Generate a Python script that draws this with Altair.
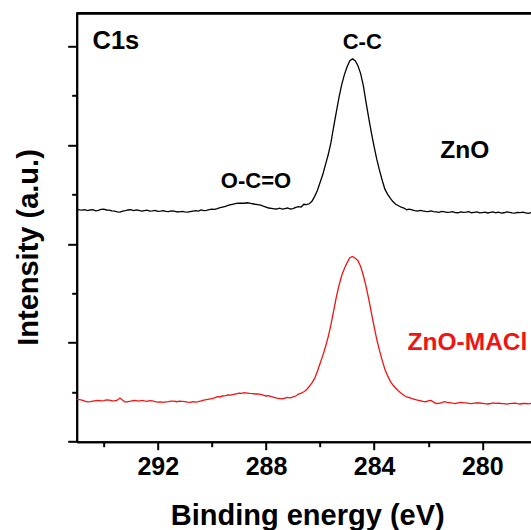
import altair as alt
import pandas as pd

# Binding energy (eV), shared by both spectra
energy = [295.0,
          294.9, 294.8, 294.7, 294.6, 294.5, 294.4, 294.3, 294.2, 294.1, 294.0,
          293.9, 293.8, 293.7, 293.6, 293.5, 293.4, 293.3, 293.2, 293.1, 293.0,
          292.9, 292.8, 292.7, 292.6, 292.5, 292.4, 292.3, 292.2, 292.1, 292.0,
          291.9, 291.8, 291.7, 291.6, 291.5, 291.4, 291.3, 291.2, 291.1, 291.0,
          290.9, 290.8, 290.7, 290.6, 290.5, 290.4, 290.3, 290.2, 290.1, 290.0,
          289.9, 289.8, 289.7, 289.6, 289.5, 289.4, 289.3, 289.2, 289.1, 289.0,
          288.9, 288.8, 288.7, 288.6, 288.5, 288.4, 288.3, 288.2, 288.1, 288.0,
          287.9, 287.8, 287.7, 287.6, 287.5, 287.4, 287.3, 287.2, 287.1, 287.0,
          286.9, 286.8, 286.7, 286.6, 286.5, 286.4, 286.3, 286.2, 286.1, 286.0,
          285.9, 285.8, 285.7, 285.6, 285.5, 285.4, 285.3, 285.2, 285.1, 285.0,
          284.9, 284.8, 284.7, 284.6, 284.5, 284.4, 284.3, 284.2, 284.1, 284.0,
          283.9, 283.8, 283.7, 283.6, 283.5, 283.4, 283.3, 283.2, 283.1, 283.0,
          282.9, 282.8, 282.7, 282.6, 282.5, 282.4, 282.3, 282.2, 282.1, 282.0,
          281.9, 281.8, 281.7, 281.6, 281.5, 281.4, 281.3, 281.2, 281.1, 281.0,
          280.9, 280.8, 280.7, 280.6, 280.5, 280.4, 280.3, 280.2, 280.1, 280.0,
          279.9, 279.8, 279.7, 279.6, 279.5, 279.4, 279.3, 279.2, 279.1, 279.0,
          278.9, 278.8, 278.7, 278.6, 278.5, 278.4, 278.3, 278.2]

# ZnO spectrum (black)
zno = [2.350,
       2.344, 2.340, 2.346, 2.336, 2.342, 2.345, 2.334, 2.338, 2.348, 2.350,
       2.342, 2.340, 2.332, 2.330, 2.324, 2.320, 2.330, 2.335, 2.342, 2.345,
       2.336, 2.343, 2.338, 2.330, 2.336, 2.340, 2.331, 2.333, 2.338, 2.328,
       2.330, 2.336, 2.329, 2.326, 2.333, 2.330, 2.324, 2.322, 2.327, 2.323,
       2.320, 2.325, 2.330, 2.335, 2.331, 2.343, 2.336, 2.338, 2.346, 2.350,
       2.348, 2.356, 2.366, 2.372, 2.378, 2.388, 2.396, 2.402, 2.408, 2.412,
       2.410, 2.410, 2.415, 2.412, 2.405, 2.400, 2.396, 2.390, 2.380, 2.372,
       2.362, 2.358, 2.354, 2.352, 2.360, 2.350, 2.356, 2.362, 2.352, 2.355,
       2.368, 2.376, 2.372, 2.400, 2.396, 2.405, 2.430, 2.480, 2.540, 2.620,
       2.700, 2.800, 2.900, 3.020, 3.180, 3.330, 3.480, 3.610, 3.710, 3.790,
       3.850, 3.869, 3.850, 3.800, 3.720, 3.600, 3.430, 3.270, 3.120, 2.980,
       2.850, 2.740, 2.640, 2.550, 2.500, 2.460, 2.425, 2.400, 2.385, 2.370,
       2.362, 2.345, 2.350, 2.343, 2.336, 2.330, 2.338, 2.332, 2.328, 2.325,
       2.333, 2.326, 2.322, 2.318, 2.327, 2.324, 2.318, 2.320, 2.326, 2.316,
       2.314, 2.322, 2.318, 2.320, 2.326, 2.314, 2.318, 2.322, 2.312, 2.316,
       2.320, 2.312, 2.318, 2.322, 2.314, 2.320, 2.310, 2.314, 2.322, 2.318,
       2.312, 2.310, 2.318, 2.316, 2.320, 2.312, 2.308, 2.316]

# ZnO-MACl spectrum (red)
zno_macl = [0.431,
            0.426, 0.420, 0.410, 0.402, 0.405, 0.410, 0.415, 0.418, 0.412, 0.415,
            0.422, 0.420, 0.414, 0.412, 0.420, 0.441, 0.418, 0.401, 0.406, 0.410,
            0.418, 0.415, 0.410, 0.417, 0.412, 0.408, 0.414, 0.412, 0.405, 0.400,
            0.403, 0.397, 0.402, 0.405, 0.410, 0.410, 0.404, 0.411, 0.408, 0.404,
            0.400, 0.398, 0.404, 0.401, 0.406, 0.412, 0.420, 0.425, 0.430, 0.435,
            0.444, 0.455, 0.452, 0.462, 0.466, 0.472, 0.470, 0.478, 0.484, 0.490,
            0.488, 0.496, 0.492, 0.488, 0.486, 0.482, 0.484, 0.478, 0.470, 0.462,
            0.466, 0.455, 0.448, 0.440, 0.436, 0.432, 0.440, 0.448, 0.444, 0.452,
            0.462, 0.482, 0.490, 0.505, 0.525, 0.560, 0.595, 0.640, 0.710, 0.790,
            0.870, 0.960, 1.060, 1.180, 1.320, 1.460, 1.580, 1.680, 1.750, 1.810,
            1.860, 1.872, 1.855, 1.830, 1.770, 1.680, 1.570, 1.440, 1.300, 1.160,
            1.030, 0.920, 0.820, 0.730, 0.665, 0.610, 0.570, 0.540, 0.512, 0.490,
            0.470, 0.452, 0.446, 0.436, 0.428, 0.420, 0.414, 0.407, 0.404, 0.412,
            0.418, 0.400, 0.386, 0.388, 0.396, 0.405, 0.398, 0.395, 0.390, 0.386,
            0.392, 0.398, 0.394, 0.392, 0.388, 0.384, 0.390, 0.393, 0.391, 0.388,
            0.384, 0.381, 0.386, 0.392, 0.388, 0.390, 0.386, 0.385, 0.380, 0.384,
            0.388, 0.390, 0.384, 0.381, 0.386, 0.386, 0.382, 0.387]

# Annotations (text, energy, intensity)
ann_text = ["C1s", "C-C", "O-C=O", "ZnO", "ZnO-MACl"]
ann_e = [293.55, 284.44, 288.37, 280.65, 280.55]
ann_i = [3.969, 3.974, 2.564, 2.864, 0.927]

x_major = [292, 288, 284, 280]
x_minor = [294, 290, 286, 282]
y_major = [0, 1, 2, 3, 4]
y_minor = [0.5, 1.5, 2.5, 3.5]

RED = "#f01414"
FONT = "Liberation Sans"

df_zno = pd.DataFrame({"E": energy, "I": zno})
df_macl = pd.DataFrame({"E": energy, "I": zno_macl})
df_ann = pd.DataFrame({"text": ann_text, "E": ann_e, "I": ann_i})

xs = alt.Scale(domain=[278.2, 295], reverse=True, nice=False, zero=False)
ys = alt.Scale(domain=[0, 4.33], nice=False, zero=False)

main_x_axis = alt.Axis(values=x_major, orient="bottom", tickSize=8, labelPadding=5,
                       title="Binding energy (eV)", titleX=230.5, titleY=82.3,
                       titleBaseline="alphabetic", grid=False, labelFlush=False)
main_y_axis = alt.Axis(values=y_major, orient="left", tickSize=9, labels=False,
                       title="Intensity (a.u.)", titleX=-39, titleY=233.7,
                       titleBaseline="alphabetic", titleAngle=270, grid=False,
                       titleLimit=400)

line_zno = alt.Chart(df_zno).mark_line(color="black", strokeWidth=1.3).encode(
    x=alt.X("E:Q", scale=xs, axis=main_x_axis),
    y=alt.Y("I:Q", scale=ys, axis=main_y_axis),
)

line_macl = alt.Chart(df_macl).mark_line(color=RED, strokeWidth=1.3).encode(
    x=alt.X("E:Q", scale=xs, axis=None),
    y=alt.Y("I:Q", scale=ys, axis=None),
)

minor = alt.Chart(df_zno).mark_line(opacity=0).encode(
    x=alt.X("E:Q", scale=xs, axis=alt.Axis(values=x_minor, orient="bottom", tickSize=5,
                                            labels=False, title=None, grid=False)),
    y=alt.Y("I:Q", scale=ys, axis=alt.Axis(values=y_minor, orient="left", tickSize=5,
                                            labels=False, title=None, grid=False)),
)


def label_layer(names, size, color):
    return alt.Chart(df_ann).transform_filter(
        alt.FieldOneOfPredicate(field="text", oneOf=names)
    ).mark_text(font=FONT, fontWeight="bold", baseline="alphabetic", align="center",
                fontSize=size, color=color).encode(
        x=alt.X("E:Q", scale=xs, axis=None),
        y=alt.Y("I:Q", scale=ys, axis=None),
        text="text:N",
    )


lbl_c1s = label_layer(["C1s"], 25.5, "black")
lbl_peaks = label_layer(["C-C", "O-C=O"], 22, "black")
lbl_zno = label_layer(["ZnO"], 24.5, "black")
lbl_macl = label_layer(["ZnO-MACl"], 24.5, RED)

top_border = alt.Chart(df_ann).mark_rule(color="black", strokeWidth=2).encode(
    x=alt.value(0), x2=alt.value(460), y=alt.value(0)
)

chart = alt.layer(line_zno, line_macl, minor, lbl_c1s, lbl_peaks, lbl_zno, lbl_macl,
                  top_border).resolve_axis(
    x="independent", y="independent"
).properties(
    width=454.3, height=428.4,
    autosize=alt.AutoSizeParams(type="none"),
    padding={"left": 76.7, "top": 13.3, "right": 0, "bottom": 88.3},
    background="white",
).configure_view(stroke=None).configure_axis(
    labelFont=FONT, labelFontWeight="bold", labelFontSize=25, labelColor="black",
    titleFont=FONT, titleFontWeight="bold", titleFontSize=29, titleColor="black",
    domainColor="black", tickColor="black", domainWidth=2, tickWidth=2,
)

chart.save("out.html", embed_options={"renderer": "svg", "actions": False})
